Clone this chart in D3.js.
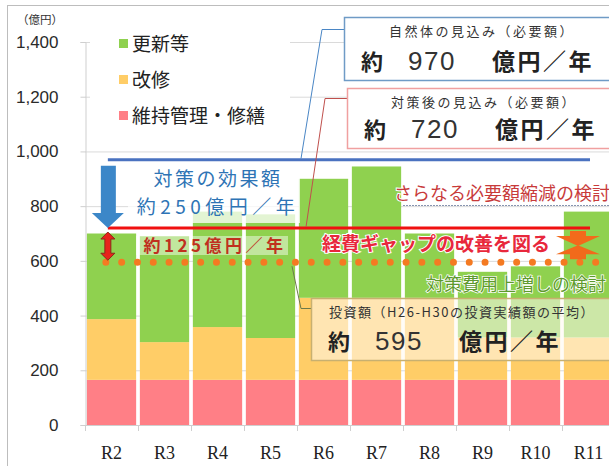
<!DOCTYPE html>
<html>
<head>
<meta charset="utf-8">
<script src="https://cdn.jsdelivr.net/npm/d3@7"></script>
<style>
  html, body { margin: 0; padding: 0; background: #fff; }
  svg { display: block; }
</style>
</head>
<body>
<svg id="chart" width="609" height="466"></svg>
<script>
// categories and series (億円)
const categories = ['R2', 'R3', 'R4', 'R5', 'R6', 'R7', 'R8', 'R9', 'R10', 'R11'];
const maintenance = [165, 165, 165, 165, 165, 165, 165, 165, 165, 165];   // 維持管理・修繕
const repair      = [222, 138, 193, 153, 300, 300, 300, 155, 155, 155];   // 改修
const renewal     = [313, 387, 422, 452, 435, 480, 235, 240, 260, 460];   // 更新等
const yTicks = [0, 200, 400, 600, 800, 1000, 1200, 1400];
const seriesNames = ['更新等', '改修', '維持管理・修繕'];

// reference levels
const naturalLevel = 970;   // 自然体の見込み
const afterLevel   = 720;   // 対策後の見込み
const investLevel  = 595;   // 投資額

const jaFont = "'Noto Sans CJK JP', 'Noto Sans', sans-serif";
const numFont = "'Liberation Sans', Arial, sans-serif";

const colors = { renewal: '#8fd14f', repair: '#ffcd67', maintenance: '#ff7f86' };

const svg = d3.select('#chart');

// frame
svg.append('rect')
  .attr('x', 7.5).attr('y', 5.5)
  .attr('width', 620).attr('height', 480)
  .attr('fill', 'none').attr('stroke', '#bdbdbd');

// scales
const x = d3.scaleBand().domain(categories).range([85, 615]).paddingInner(0.07).paddingOuter(0.035);
const y = d3.scaleLinear().domain([0, 1400]).range([425, 42]);

// gridlines
svg.append('g').selectAll('line').data(yTicks.slice(1)).join('line')
  .attr('x1', 85).attr('x2', 609)
  .attr('y1', d => y(d) + 0.5).attr('y2', d => y(d) + 0.5)
  .attr('stroke', '#dadada');

// stacked bars
const rows = categories.map((c, i) => ({ cat: c, maintenance: maintenance[i], repair: repair[i], renewal: renewal[i] }));
const stack = d3.stack().keys(['maintenance', 'repair', 'renewal'])(rows);

svg.append('g').selectAll('g').data(stack).join('g')
  .attr('fill', d => colors[d.key])
  .selectAll('rect').data(d => d).join('rect')
    .attr('x', d => x(d.data.cat))
    .attr('width', x.bandwidth())
    .attr('y', d => y(d[1]))
    .attr('height', d => y(d[0]) - y(d[1]));

// y axis
const yAxis = svg.append('g').attr('transform', 'translate(85.5,0)')
  .call(d3.axisLeft(y).tickValues(yTicks).tickSize(5).tickPadding(22).tickFormat(d3.format(',')));
yAxis.select('.domain').attr('stroke', '#cfcfcf');
yAxis.selectAll('.tick line').attr('stroke', '#cfcfcf');
yAxis.selectAll('text').attr('font-family', numFont).attr('font-size', 17).attr('fill', '#2a2a2a');

svg.append('text').attr('x', 40).attr('y', 24).attr('text-anchor', 'middle')
  .attr('font-family', jaFont).attr('font-size', 11.5).attr('fill', '#333').text('（億円）');

// x axis
const xAxis = svg.append('g').attr('transform', 'translate(0,425.5)')
  .call(d3.axisBottom(x).tickSize(0).tickPadding(21));
xAxis.select('.domain').remove();
xAxis.selectAll('text').attr('font-family', "'Liberation Serif', serif").attr('font-size', 18).attr('fill', '#222');
svg.append('line').attr('x1', 85).attr('x2', 609).attr('y1', 425.5).attr('y2', 425.5).attr('stroke', '#cfcfcf');
svg.append('g').selectAll('line').data(categories).join('line')
  .attr('x1', d => Math.round(x(d) - x.step() * x.paddingInner() / 2) + 0.5)
  .attr('x2', d => Math.round(x(d) - x.step() * x.paddingInner() / 2) + 0.5)
  .attr('y1', 425).attr('y2', 431).attr('stroke', '#cfcfcf');

// legend
const legend = svg.append('g');
legend.append('rect').attr('x', 90).attr('y', 28).attr('width', 200).attr('height', 118).attr('fill', '#fff');
const legendColors = [colors.renewal, colors.repair, colors.maintenance];
seriesNames.forEach((name, i) => {
  legend.append('rect').attr('x', 119).attr('y', 39 + i * 36).attr('width', 9).attr('height', 9).attr('fill', legendColors[i]);
  legend.append('text').attr('x', 132).attr('y', 51 + i * 36)
    .attr('font-family', jaFont).attr('font-size', 19).attr('fill', '#222').text(name);
});

// --- annotations ---
const lineStart = x('R2') + 21;
const lineEnd = 590;

// natural level (blue line)
svg.append('line').attr('x1', lineStart).attr('x2', lineEnd)
  .attr('y1', y(naturalLevel)).attr('y2', y(naturalLevel))
  .attr('stroke', '#4a72c0').attr('stroke-width', 3);

// semi-transparent boxes behind the effect texts
svg.append('rect').attr('x', 128).attr('y', 163).attr('width', 172).attr('height', 60)
  .attr('fill', '#fff').attr('opacity', 0.75);
svg.append('rect').attr('x', 136).attr('y', 236).attr('width', 152).attr('height', 19)
  .attr('fill', '#fff').attr('opacity', 0.45);

// after level (red line)
svg.append('line').attr('x1', lineStart).attr('x2', lineEnd)
  .attr('y1', y(afterLevel)).attr('y2', y(afterLevel))
  .attr('stroke', '#f01010').attr('stroke-width', 3);

// investment level (orange dotted)
svg.append('line').attr('x1', lineStart - 2).attr('x2', 609)
  .attr('y1', y(investLevel)).attr('y2', y(investLevel))
  .attr('stroke', '#f47a22').attr('stroke-width', 7)
  .attr('stroke-linecap', 'round').attr('stroke-dasharray', '0 15.8');

// big blue arrow (natural -> after)
const ax = lineStart;
const aTop = y(naturalLevel) + 6, aBot = y(afterLevel);
svg.append('path')
  .attr('d', `M${ax - 7},${aTop} L${ax + 8},${aTop} L${ax + 8},${aBot - 15} L${ax + 16},${aBot - 15} L${ax},${aBot} L${ax - 16},${aBot - 15} L${ax - 7},${aBot - 15} Z`)
  .attr('fill', '#3c87c8');

// small red double arrow (after -> invest)
const rTop = y(afterLevel) + 4, rBot = y(investLevel) - 2;
svg.append('path')
  .attr('d', `M${ax},${rTop} L${ax + 7},${rTop + 7} L${ax + 3},${rTop + 7} L${ax + 3},${rBot - 7} L${ax + 7},${rBot - 7} L${ax},${rBot} L${ax - 7},${rBot - 7} L${ax - 3},${rBot - 7} L${ax - 3},${rTop + 7} L${ax - 7},${rTop + 7} Z`)
  .attr('fill', '#e8231b').attr('stroke', '#8a2a1a').attr('stroke-width', 1);

// effect text
svg.append('text').attr('x', 218).attr('y', 186).attr('text-anchor', 'middle')
  .attr('font-family', jaFont).attr('font-size', 19).attr('letter-spacing', 2.5).attr('fill', '#2e74b5').text('対策の効果額');
svg.append('text').attr('x', 218).attr('y', 214).attr('text-anchor', 'middle')
  .attr('font-family', jaFont).attr('font-size', 19).attr('letter-spacing', 4.5).attr('fill', '#2e74b5').text('約250億円／年');

svg.append('text').attr('x', 215).attr('y', 252).attr('text-anchor', 'middle')
  .attr('font-family', jaFont).attr('font-size', 17).attr('font-weight', 'bold').attr('letter-spacing', 3.5)
  .attr('fill', '#c0301e').text('約125億円／年');

// right-side texts
svg.append('text').attr('x', 394).attr('y', 200)
  .attr('font-family', jaFont).attr('font-size', 18).attr('fill', '#c83a3a')
  .attr('stroke', '#fff').attr('stroke-width', 2).attr('paint-order', 'stroke').text('さらなる必要額縮減の検討');
svg.append('line').attr('x1', 403).attr('x2', 609).attr('y1', 205.5).attr('y2', 205.5)
  .attr('stroke', '#8895b0').attr('stroke-dasharray', '2 1');

svg.append('text').attr('x', 322).attr('y', 251)
  .attr('font-family', jaFont).attr('font-size', 19).attr('font-weight', 'bold').attr('fill', '#e8283c')
  .attr('stroke', '#fff').attr('stroke-width', 2).attr('paint-order', 'stroke').text('経費ギャップの改善を図る');

svg.append('text').attr('x', 426).attr('y', 291)
  .attr('font-family', jaFont).attr('font-size', 18).attr('fill', '#5e9a2e')
  .attr('stroke', '#fff').attr('stroke-width', 1.5).attr('paint-order', 'stroke').text('対策費用上増しの検討');

// orange converging arrows
const ox = 578;
svg.append('path')
  .attr('d', `M${ox - 8},${y(afterLevel) + 3} L${ox + 8},${y(afterLevel) + 3} L${ox + 8},${y(afterLevel) + 8} L${ox + 22},${y(afterLevel) + 8} L${ox},${y(afterLevel) + 18} L${ox - 22},${y(afterLevel) + 8} L${ox - 8},${y(afterLevel) + 8} Z`)
  .attr('fill', '#f26a1b');
svg.append('path')
  .attr('d', `M${ox - 8},${y(investLevel) - 3} L${ox + 8},${y(investLevel) - 3} L${ox + 8},${y(investLevel) - 8} L${ox + 22},${y(investLevel) - 8} L${ox},${y(investLevel) - 17} L${ox - 22},${y(investLevel) - 8} L${ox - 8},${y(investLevel) - 8} Z`)
  .attr('fill', '#f26a1b');

// callout boxes
function callout(opts) {
  const g = svg.append('g');
  g.append('polyline')
    .attr('points', opts.leader.map(p => p.join(',')).join(' '))
    .attr('fill', 'none').attr('stroke', opts.leaderColor).attr('stroke-width', 1);
  g.append('rect').attr('x', opts.x + 0.5).attr('y', opts.y + 0.5).attr('width', 300).attr('height', opts.h)
    .attr('fill', opts.fill).attr('fill-opacity', opts.fillOpacity)
    .attr('stroke', opts.stroke).attr('stroke-width', 1.5);
  g.append('text').attr('x', opts.titleX).attr('y', opts.y + 19).attr('text-anchor', 'middle')
    .attr('font-family', jaFont).attr('font-size', 13).attr('letter-spacing', opts.titleSpacing).attr('fill', '#333').text(opts.title);
  const by = opts.y + opts.h - 10;
  g.append('text').attr('x', opts.x + 17).attr('y', by)
    .attr('font-family', jaFont).attr('font-size', 22).attr('font-weight', 'bold').attr('fill', '#222').text('約');
  g.append('text').attr('x', opts.x + 64).attr('y', by)
    .attr('font-family', numFont).attr('font-size', 26).attr('letter-spacing', 1.5).attr('fill', '#333').text(opts.value);
  g.append('text').attr('x', opts.x + 148).attr('y', by)
    .attr('font-family', jaFont).attr('font-size', 23).attr('font-weight', 'bold').attr('letter-spacing', 2.5).attr('fill', '#222').text('億円／年');
}

callout({
  x: 344, y: 17, h: 63, title: '自然体の見込み（必要額）', titleX: 482, titleSpacing: 2.5, value: naturalLevel,
  stroke: '#6f9bc6', fill: '#fff', fillOpacity: 1, leaderColor: '#4a86c5',
  leader: [[344, 29.5], [322, 29.5], [301, y(naturalLevel) - 1]]
});
callout({
  x: 347, y: 88, h: 60, title: '対策後の見込み（必要額）', titleX: 484, titleSpacing: 2.5, value: afterLevel,
  stroke: '#f0a0a0', fill: '#fff', fillOpacity: 1, leaderColor: '#c0504d',
  leader: [[347, 98.5], [325, 98.5], [306, y(afterLevel) - 1]]
});
callout({
  x: 311, y: 298, h: 62, title: '投資額（H26-H30の投資実績額の平均）', titleX: 462, titleSpacing: 1.5, value: investLevel,
  stroke: '#c8b070', fill: '#fffaf0', fillOpacity: 0.55, leaderColor: '#6c7a4a',
  leader: [[311, 308.5], [301, 308.5], [292, y(investLevel) + 4]]
});
</script>
</body>
</html>
